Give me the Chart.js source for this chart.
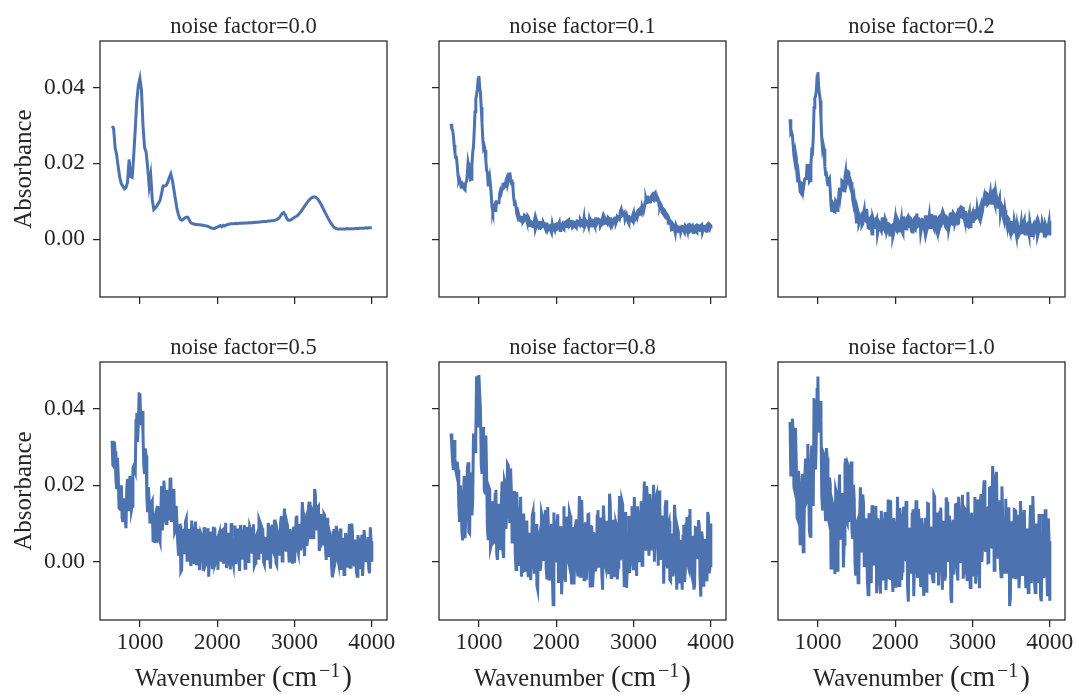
<!DOCTYPE html>
<html>
<head>
<meta charset="utf-8">
<script src="https://cdn.jsdelivr.net/npm/chart.js@4.4.0/dist/chart.umd.min.js"></script>
<style>
  html, body { margin: 0; padding: 0; background: #fff; }
  #fig { position: relative; width: 1076px; height: 695px; overflow: hidden; background: #fff; }
  #fig canvas { position: absolute; }
</style>
</head>
<body>
<div id="fig"></div>
<script>
// wavenumber grids (cm-1): the clean spectrum is read on a 20 cm-1 step,
// the noisy ones on a 10 cm-1 step
const wavenumbersCoarse = [
  640,660,680,700,720,740,760,780,800,820,
  840,860,880,900,920,940,960,980,1000,1020,
  1040,1060,1080,1100,1120,1140,1160,1180,1200,1220,
  1240,1260,1280,1300,1320,1340,1360,1380,1400,1420,
  1440,1460,1480,1500,1520,1540,1560,1580,1600,1620,
  1640,1660,1680,1700,1720,1740,1760,1780,1800,1820,
  1840,1860,1880,1900,1920,1940,1960,1980,2000,2020,
  2040,2060,2080,2100,2120,2140,2160,2180,2200,2220,
  2240,2260,2280,2300,2320,2340,2360,2380,2400,2420,
  2440,2460,2480,2500,2520,2540,2560,2580,2600,2620,
  2640,2660,2680,2700,2720,2740,2760,2780,2800,2820,
  2840,2860,2880,2900,2920,2940,2960,2980,3000,3020,
  3040,3060,3080,3100,3120,3140,3160,3180,3200,3220,
  3240,3260,3280,3300,3320,3340,3360,3380,3400,3420,
  3440,3460,3480,3500,3520,3540,3560,3580,3600,3620,
  3640,3660,3680,3700,3720,3740,3760,3780,3800,3820,
  3840,3860,3880,3900,3920,3940,3960,3980,4000
];

const wavenumbersFine = [
  640,650,660,670,680,690,700,710,720,730,740,750,760,770,780,790,800,810,820,830,
  840,850,860,870,880,890,900,910,920,930,940,950,960,970,980,990,1000,1010,1020,1030,
  1040,1050,1060,1070,1080,1090,1100,1110,1120,1130,1140,1150,1160,1170,1180,1190,1200,1210,1220,1230,
  1240,1250,1260,1270,1280,1290,1300,1310,1320,1330,1340,1350,1360,1370,1380,1390,1400,1410,1420,1430,
  1440,1450,1460,1470,1480,1490,1500,1510,1520,1530,1540,1550,1560,1570,1580,1590,1600,1610,1620,1630,
  1640,1650,1660,1670,1680,1690,1700,1710,1720,1730,1740,1750,1760,1770,1780,1790,1800,1810,1820,1830,
  1840,1850,1860,1870,1880,1890,1900,1910,1920,1930,1940,1950,1960,1970,1980,1990,2000,2010,2020,2030,
  2040,2050,2060,2070,2080,2090,2100,2110,2120,2130,2140,2150,2160,2170,2180,2190,2200,2210,2220,2230,
  2240,2250,2260,2270,2280,2290,2300,2310,2320,2330,2340,2350,2360,2370,2380,2390,2400,2410,2420,2430,
  2440,2450,2460,2470,2480,2490,2500,2510,2520,2530,2540,2550,2560,2570,2580,2590,2600,2610,2620,2630,
  2640,2650,2660,2670,2680,2690,2700,2710,2720,2730,2740,2750,2760,2770,2780,2790,2800,2810,2820,2830,
  2840,2850,2860,2870,2880,2890,2900,2910,2920,2930,2940,2950,2960,2970,2980,2990,3000,3010,3020,3030,
  3040,3050,3060,3070,3080,3090,3100,3110,3120,3130,3140,3150,3160,3170,3180,3190,3200,3210,3220,3230,
  3240,3250,3260,3270,3280,3290,3300,3310,3320,3330,3340,3350,3360,3370,3380,3390,3400,3410,3420,3430,
  3440,3450,3460,3470,3480,3490,3500,3510,3520,3530,3540,3550,3560,3570,3580,3590,3600,3610,3620,3630,
  3640,3650,3660,3670,3680,3690,3700,3710,3720,3730,3740,3750,3760,3770,3780,3790,3800,3810,3820,3830,
  3840,3850,3860,3870,3880,3890,3900,3910,3920,3930,3940,3950,3960,3970,3980,3990,4000
];

// absorbance
const absorbanceNf00 = [
  298e-4,292e-4,240e-4,222e-4,190e-4,162e-4,146e-4,140e-4,133e-4,136e-4,
  150e-4,210e-4,165e-4,163e-4,220e-4,290e-4,365e-4,405e-4,424e-4,393e-4,
  300e-4,242e-4,230e-4,190e-4,140e-4,168e-4,105e-4,78e-4,82e-4,88e-4,
  95e-4,102e-4,120e-4,140e-4,140e-4,142e-4,150e-4,162e-4,172e-4,155e-4,
  130e-4,105e-4,80e-4,64e-4,53e-4,50e-4,52e-4,56e-4,58e-4,58e-4,
  50e-4,43e-4,41e-4,40e-4,39e-4,39e-4,38e-4,38e-4,37e-4,37e-4,
  36e-4,35e-4,34e-4,32e-4,30e-4,29e-4,28e-4,30e-4,32e-4,34e-4,
  36e-4,33e-4,37e-4,35e-4,38e-4,39e-4,40e-4,41e-4,41e-4,41e-4,
  42e-4,41e-4,42e-4,42e-4,43e-4,42e-4,43e-4,43e-4,43e-4,44e-4,
  43e-4,44e-4,44e-4,45e-4,45e-4,45e-4,46e-4,46e-4,47e-4,47e-4,
  47e-4,48e-4,48e-4,49e-4,49e-4,50e-4,51e-4,53e-4,56e-4,62e-4,
  68e-4,70e-4,64e-4,55e-4,50e-4,50e-4,52e-4,55e-4,58e-4,60e-4,
  63e-4,67e-4,72e-4,78e-4,84e-4,90e-4,96e-4,101e-4,106e-4,109e-4,
  111e-4,111e-4,110e-4,106e-4,100e-4,93e-4,85e-4,77e-4,69e-4,61e-4,
  53e-4,46e-4,40e-4,34e-4,30e-4,28e-4,27e-4,27e-4,27e-4,27e-4,
  27e-4,27e-4,28e-4,27e-4,28e-4,28e-4,28e-4,28e-4,29e-4,28e-4,
  29e-4,29e-4,29e-4,29e-4,30e-4,29e-4,30e-4,30e-4,30e-4
];

const absorbanceNf01 = [
  304e-4,290e-4,288e-4,273e-4,248e-4,228e-4,215e-4,215e-4,193e-4,168e-4,153e-4,158e-4,151e-4,137e-4,138e-4,146e-4,143e-4,132e-4,130e-4,149e-4,
  152e-4,171e-4,202e-4,191e-4,172e-4,157e-4,158e-4,196e-4,229e-4,244e-4,287e-4,336e-4,369e-4,381e-4,395e-4,421e-4,430e-4,400e-4,386e-4,348e-4,
  308e-4,265e-4,240e-4,245e-4,235e-4,207e-4,181e-4,177e-4,143e-4,149e-4,162e-4,143e-4,116e-4,84e-4,74e-4,84e-4,89e-4,76e-4,80e-4,98e-4,
  97e-4,96e-4,97e-4,121e-4,129e-4,123e-4,133e-4,145e-4,146e-4,137e-4,139e-4,154e-4,160e-4,144e-4,153e-4,170e-4,176e-4,158e-4,149e-4,151e-4,
  137e-4,110e-4,94e-4,96e-4,85e-4,67e-4,60e-4,69e-4,61e-4,49e-4,48e-4,58e-4,58e-4,45e-4,48e-4,63e-4,61e-4,56e-4,48e-4,62e-4,
  59e-4,36e-4,38e-4,47e-4,45e-4,34e-4,33e-4,43e-4,52e-4,26e-4,33e-4,47e-4,40e-4,34e-4,29e-4,44e-4,44e-4,32e-4,34e-4,46e-4,
  41e-4,32e-4,27e-4,40e-4,44e-4,24e-4,28e-4,35e-4,36e-4,22e-4,17e-4,40e-4,31e-4,27e-4,23e-4,39e-4,40e-4,27e-4,29e-4,40e-4,
  45e-4,23e-4,31e-4,38e-4,41e-4,28e-4,26e-4,43e-4,45e-4,34e-4,33e-4,49e-4,51e-4,35e-4,38e-4,47e-4,46e-4,31e-4,33e-4,45e-4,
  44e-4,34e-4,31e-4,49e-4,50e-4,39e-4,37e-4,53e-4,49e-4,36e-4,35e-4,44e-4,57e-4,34e-4,39e-4,48e-4,46e-4,39e-4,35e-4,56e-4,
  50e-4,35e-4,38e-4,50e-4,49e-4,39e-4,34e-4,54e-4,54e-4,43e-4,43e-4,52e-4,50e-4,34e-4,38e-4,50e-4,57e-4,41e-4,42e-4,55e-4,
  50e-4,44e-4,41e-4,58e-4,56e-4,41e-4,36e-4,54e-4,55e-4,40e-4,46e-4,53e-4,60e-4,41e-4,47e-4,60e-4,58e-4,55e-4,54e-4,74e-4,
  79e-4,63e-4,65e-4,69e-4,71e-4,52e-4,52e-4,64e-4,55e-4,45e-4,41e-4,58e-4,56e-4,50e-4,48e-4,64e-4,70e-4,49e-4,54e-4,65e-4,
  69e-4,58e-4,65e-4,78e-4,80e-4,71e-4,68e-4,87e-4,87e-4,74e-4,84e-4,98e-4,105e-4,96e-4,97e-4,111e-4,113e-4,98e-4,98e-4,113e-4,
  116e-4,105e-4,103e-4,121e-4,123e-4,103e-4,103e-4,110e-4,106e-4,88e-4,86e-4,93e-4,89e-4,71e-4,68e-4,79e-4,77e-4,62e-4,56e-4,66e-4,
  63e-4,42e-4,42e-4,48e-4,43e-4,25e-4,26e-4,40e-4,37e-4,25e-4,16e-4,37e-4,32e-4,21e-4,21e-4,30e-4,36e-4,18e-4,25e-4,34e-4,
  33e-4,22e-4,18e-4,35e-4,32e-4,25e-4,20e-4,38e-4,39e-4,21e-4,23e-4,34e-4,36e-4,18e-4,25e-4,32e-4,34e-4,20e-4,18e-4,37e-4,
  36e-4,25e-4,23e-4,36e-4,38e-4,18e-4,25e-4,34e-4,33e-4,23e-4,21e-4,38e-4,40e-4,27e-4,25e-4,38e-4,36e-4
];

const absorbanceNf02 = [
  316e-4,279e-4,282e-4,274e-4,248e-4,221e-4,208e-4,228e-4,216e-4,170e-4,150e-4,168e-4,150e-4,125e-4,122e-4,148e-4,147e-4,130e-4,130e-4,159e-4,
  160e-4,160e-4,194e-4,198e-4,185e-4,152e-4,155e-4,197e-4,232e-4,229e-4,266e-4,346e-4,371e-4,377e-4,391e-4,429e-4,440e-4,400e-4,383e-4,366e-4,
  318e-4,265e-4,238e-4,248e-4,238e-4,192e-4,172e-4,173e-4,154e-4,140e-4,156e-4,160e-4,127e-4,88e-4,72e-4,96e-4,92e-4,73e-4,72e-4,102e-4,
  99e-4,76e-4,82e-4,117e-4,136e-4,114e-4,130e-4,154e-4,152e-4,133e-4,128e-4,164e-4,178e-4,146e-4,154e-4,179e-4,178e-4,144e-4,137e-4,150e-4,
  144e-4,104e-4,93e-4,108e-4,90e-4,66e-4,42e-4,80e-4,71e-4,40e-4,46e-4,55e-4,60e-4,36e-4,40e-4,67e-4,78e-4,50e-4,48e-4,80e-4,
  56e-4,30e-4,29e-4,54e-4,57e-4,30e-4,14e-4,58e-4,51e-4,35e-4,31e-4,52e-4,56e-4,14e-4,26e-4,45e-4,41e-4,25e-4,21e-4,52e-4,
  58e-4,29e-4,25e-4,54e-4,48e-4,19e-4,26e-4,41e-4,40e-4,11e-4,11e-4,34e-4,36e-4,7e-4,16e-4,43e-4,56e-4,25e-4,22e-4,53e-4,
  48e-4,22e-4,29e-4,39e-4,53e-4,20e-4,15e-4,60e-4,44e-4,28e-4,27e-4,54e-4,58e-4,34e-4,33e-4,57e-4,55e-4,21e-4,19e-4,49e-4,
  52e-4,27e-4,25e-4,59e-4,68e-4,34e-4,36e-4,54e-4,55e-4,16e-4,28e-4,52e-4,51e-4,39e-4,25e-4,59e-4,59e-4,25e-4,34e-4,49e-4,
  63e-4,31e-4,36e-4,66e-4,50e-4,34e-4,29e-4,59e-4,59e-4,29e-4,21e-4,53e-4,56e-4,26e-4,34e-4,58e-4,65e-4,41e-4,43e-4,65e-4,
  59e-4,33e-4,30e-4,58e-4,56e-4,24e-4,35e-4,65e-4,71e-4,41e-4,40e-4,70e-4,67e-4,40e-4,47e-4,60e-4,66e-4,41e-4,42e-4,79e-4,
  82e-4,59e-4,58e-4,83e-4,82e-4,56e-4,47e-4,74e-4,56e-4,36e-4,34e-4,63e-4,72e-4,33e-4,45e-4,64e-4,70e-4,43e-4,72e-4,79e-4,
  55e-4,57e-4,83e-4,83e-4,58e-4,53e-4,84e-4,91e-4,66e-4,75e-4,100e-4,111e-4,92e-4,92e-4,121e-4,119e-4,94e-4,97e-4,113e-4,124e-4,
  95e-4,105e-4,125e-4,128e-4,100e-4,92e-4,124e-4,111e-4,94e-4,84e-4,101e-4,109e-4,65e-4,77e-4,89e-4,85e-4,55e-4,47e-4,77e-4,63e-4,
  49e-4,35e-4,56e-4,53e-4,22e-4,15e-4,40e-4,48e-4,18e-4,21e-4,50e-4,39e-4,19e-4,7e-4,41e-4,31e-4,11e-4,15e-4,31e-4,45e-4,
  17e-4,21e-4,45e-4,51e-4,14e-4,17e-4,39e-4,41e-4,22e-4,12e-4,48e-4,36e-4,10e-4,10e-4,36e-4,40e-4,17e-4,24e-4,42e-4,48e-4,
  7e-4,15e-4,39e-4,39e-4,21e-4,21e-4,45e-4,45e-4,26e-4,5e-4,41e-4,35e-4,14e-4,18e-4,36e-4,48e-4,10e-4
];

const absorbanceNf05 = [
  316e-4,253e-4,250e-4,314e-4,288e-4,213e-4,190e-4,272e-4,226e-4,140e-4,138e-4,166e-4,200e-4,115e-4,104e-4,166e-4,145e-4,110e-4,88e-4,190e-4,
  216e-4,132e-4,180e-4,224e-4,207e-4,134e-4,145e-4,245e-4,250e-4,243e-4,236e-4,370e-4,389e-4,313e-4,363e-4,439e-4,440e-4,374e-4,357e-4,394e-4,
  336e-4,253e-4,230e-4,296e-4,278e-4,168e-4,130e-4,195e-4,158e-4,100e-4,132e-4,154e-4,159e-4,55e-4,54e-4,116e-4,124e-4,61e-4,50e-4,146e-4,
  125e-4,62e-4,54e-4,123e-4,198e-4,82e-4,122e-4,212e-4,176e-4,111e-4,100e-4,188e-4,174e-4,138e-4,108e-4,215e-4,220e-4,104e-4,125e-4,166e-4,
  190e-4,76e-4,81e-4,146e-4,98e-4,48e-4,16e-4,94e-4,95e-4,-26e-4,-22e-4,81e-4,82e-4,42e-4,20e-4,105e-4,112e-4,4e-4,46e-4,72e-4,
  86e-4,10e-4,-11e-4,108e-4,65e-4,10e-4,-2e-4,82e-4,105e-4,-9e-4,9e-4,62e-4,86e-4,-22e-4,20e-4,73e-4,67e-4,19e-4,-23e-4,90e-4,
  78e-4,-7e-4,-1e-4,64e-4,88e-4,-39e-4,8e-4,79e-4,48e-4,5e-4,-19e-4,88e-4,88e-4,-7e-4,0,49e-4,68e-4,-21e-4,70e-4,77e-4,
  12e-4,4e-4,81e-4,83e-4,-5e-4,24e-4,53e-4,102e-4,-16e-4,-4e-4,69e-4,76e-4,28e-4,-20e-4,101e-4,65e-4,5e-4,-7e-4,53e-4,95e-4,
  -6e-4,17e-4,83e-4,83e-4,12e-4,-24e-4,96e-4,72e-4,25e-4,6e-4,66e-4,96e-4,-17e-4,25e-4,79e-4,91e-4,1e-4,13e-4,92e-4,85e-4,
  31e-4,25e-4,74e-4,98e-4,-10e-4,-4e-4,63e-4,69e-4,9e-4,9e-4,111e-4,105e-4,22e-4,34e-4,88e-4,82e-4,-1e-4,-7e-4,59e-4,65e-4,
  17e-4,5e-4,102e-4,78e-4,6e-4,-18e-4,85e-4,97e-4,31e-4,25e-4,110e-4,86e-4,-3e-4,-8e-4,77e-4,66e-4,20e-4,23e-4,104e-4,119e-4,
  2e-4,51e-4,100e-4,139e-4,40e-4,30e-4,103e-4,94e-4,38e-4,2e-4,86e-4,75e-4,4e-4,-1e-4,73e-4,92e-4,-2e-4,47e-4,114e-4,121e-4,
  33e-4,23e-4,91e-4,99e-4,30e-4,51e-4,156e-4,129e-4,48e-4,15e-4,102e-4,111e-4,42e-4,62e-4,143e-4,157e-4,88e-4,59e-4,139e-4,134e-4,
  63e-4,81e-4,190e-4,176e-4,86e-4,90e-4,142e-4,145e-4,28e-4,42e-4,111e-4,125e-4,43e-4,69e-4,125e-4,121e-4,39e-4,5e-4,115e-4,87e-4,
  41e-4,13e-4,70e-4,61e-4,-14e-4,-41e-4,76e-4,86e-4,-6e-4,5e-4,94e-4,69e-4,9e-4,-3e-4,57e-4,87e-4,-21e-4,9e-4,39e-4,63e-4,
  -33e-4,-27e-4,75e-4,51e-4,-2e-4,-15e-4,63e-4,99e-4,-14e-4,16e-4,100e-4,76e-4,4e-4,-8e-4,46e-4,58e-4,-25e-4,-38e-4,70e-4,46e-4,
  -7e-4,-19e-4,59e-4,71e-4,-37e-4,5e-4,83e-4,83e-4,18e-4,-1e-4,53e-4,65e-4,-18e-4,-30e-4,90e-4,54e-4,0
];

const absorbanceNf08 = [
  335e-4,300e-4,262e-4,240e-4,318e-4,271e-4,240e-4,230e-4,262e-4,240e-4,150e-4,104e-4,200e-4,163e-4,80e-4,56e-4,170e-4,224e-4,62e-4,113e-4,
  130e-4,240e-4,260e-4,78e-4,75e-4,214e-4,233e-4,121e-4,160e-4,335e-4,320e-4,288e-4,330e-4,485e-4,445e-4,355e-4,488e-4,440e-4,400e-4,256e-4,
  230e-4,341e-4,352e-4,186e-4,180e-4,330e-4,230e-4,85e-4,60e-4,194e-4,188e-4,36e-4,45e-4,152e-4,158e-4,50e-4,52e-4,175e-4,188e-4,22e-4,
  5e-4,148e-4,152e-4,31e-4,80e-4,150e-4,210e-4,30e-4,10e-4,211e-4,202e-4,86e-4,130e-4,256e-4,252e-4,127e-4,102e-4,244e-4,185e-4,52e-4,
  80e-4,158e-4,185e-4,22e-4,-20e-4,182e-4,104e-4,8e-4,-7e-4,112e-4,170e-4,-39e-4,22e-4,84e-4,126e-4,-23e-4,-22e-4,90e-4,108e-4,-16e-4,
  -40e-4,76e-4,63e-4,-48e-4,1e-4,120e-4,130e-4,0,-31e-4,85e-4,99e-4,-62e-4,-72e-4,58e-4,68e-4,-23e-4,-13e-4,127e-4,117e-4,6e-4,
  16e-4,105e-4,135e-4,-16e-4,-46e-4,143e-4,82e-4,-49e-4,-30e-4,69e-4,99e-4,-32e-4,-112e-4,129e-4,70e-4,11e-4,2e-4,93e-4,124e-4,-55e-4,
  -34e-4,64e-4,93e-4,-85e-4,-13e-4,86e-4,145e-4,-34e-4,-52e-4,118e-4,59e-4,10e-4,0,130e-4,121e-4,-19e-4,-59e-4,61e-4,91e-4,-59e-4,
  12e-4,95e-4,111e-4,-9e-4,-38e-4,82e-4,172e-4,-38e-4,-17e-4,162e-4,82e-4,12e-4,-47e-4,88e-4,103e-4,-47e-4,23e-4,123e-4,124e-4,3e-4,
  -67e-4,93e-4,94e-4,-66e-4,-26e-4,74e-4,75e-4,-25e-4,-5e-4,120e-4,135e-4,-15e-4,6e-4,66e-4,116e-4,-34e-4,-73e-4,147e-4,107e-4,-3e-4,
  -13e-4,107e-4,68e-4,18e-4,-32e-4,178e-4,149e-4,-41e-4,19e-4,89e-4,110e-4,-20e-4,-39e-4,102e-4,93e-4,-46e-4,-14e-4,89e-4,172e-4,5e-4,
  18e-4,159e-4,150e-4,27e-4,-66e-4,130e-4,85e-4,-68e-4,-10e-4,70e-4,120e-4,-29e-4,12e-4,113e-4,145e-4,6e-4,-22e-4,169e-4,110e-4,31e-4,
  -37e-4,145e-4,107e-4,-1e-4,42e-4,115e-4,158e-4,-9e-4,14e-4,137e-4,210e-4,33e-4,46e-4,198e-4,161e-4,63e-4,16e-4,177e-4,129e-4,30e-4,
  51e-4,141e-4,201e-4,0,70e-4,168e-4,176e-4,83e-4,-10e-4,186e-4,143e-4,39e-4,5e-4,121e-4,107e-4,-57e-4,19e-4,145e-4,161e-4,-3e-4,
  -17e-4,99e-4,106e-4,-47e-4,-50e-4,57e-4,74e-4,-38e-4,0,149e-4,108e-4,-13e-4,-73e-4,87e-4,77e-4,-53e-4,-33e-4,57e-4,-33e-4,-73e-4,
  67e-4,97e-4,-53e-4,-23e-4,98e-4,117e-4,-3e-4,-12e-4,118e-4,138e-4,-22e-4,-32e-4,48e-4,68e-4,-72e-4,-62e-4,89e-4,88e-4,8e-4,20e-4,
  109e-4,95e-4,-41e-4,-91e-4,79e-4,66e-4,-61e-4,-41e-4,60e-4,45e-4,-11e-4,-51e-4,130e-4,115e-4,-30e-4,-10e-4,100e-4
];

const absorbanceNf10 = [
  365e-4,223e-4,250e-4,374e-4,340e-4,195e-4,186e-4,350e-4,262e-4,116e-4,110e-4,238e-4,194e-4,47e-4,50e-4,184e-4,229e-4,26e-4,76e-4,215e-4,
  270e-4,156e-4,162e-4,308e-4,201e-4,80e-4,67e-4,251e-4,304e-4,207e-4,146e-4,424e-4,425e-4,241e-4,333e-4,451e-4,484e-4,338e-4,369e-4,420e-4,
  372e-4,175e-4,134e-4,284e-4,278e-4,150e-4,106e-4,297e-4,272e-4,118e-4,108e-4,220e-4,201e-4,-16e-4,42e-4,152e-4,142e-4,61e-4,-32e-4,188e-4,
  179e-4,-22e-4,30e-4,171e-4,228e-4,58e-4,92e-4,176e-4,176e-4,-15e-4,46e-4,254e-4,270e-4,108e-4,102e-4,251e-4,244e-4,104e-4,227e-4,262e-4,
  82e-4,60e-4,201e-4,164e-4,-4e-4,-36e-4,100e-4,106e-4,-55e-4,-32e-4,110e-4,195e-4,28e-4,30e-4,176e-4,153e-4,-14e-4,10e-4,82e-4,114e-4,
  -46e-4,-86e-4,127e-4,78e-4,-19e-4,-56e-4,148e-4,124e-4,3e-4,-9e-4,87e-4,146e-4,-82e-4,-22e-4,110e-4,109e-4,-47e-4,-83e-4,133e-4,84e-4,
  12e-4,-49e-4,95e-4,130e-4,-74e-4,-3e-4,68e-4,163e-4,-42e-4,-43e-4,161e-4,52e-4,-20e-4,-79e-4,114e-4,91e-4,-64e-4,-15e-4,58e-4,170e-4,
  -24e-4,-62e-4,141e-4,107e-4,-47e-4,-24e-4,107e-4,144e-4,2e-4,14e-4,159e-4,124e-4,-68e-4,-104e-4,89e-4,70e-4,-31e-4,-5e-4,125e-4,137e-4,
  -90e-4,5e-4,101e-4,161e-4,-6e-4,-42e-4,138e-4,102e-4,19e-4,-66e-4,114e-4,78e-4,-53e-4,-89e-4,79e-4,115e-4,-77e-4,-5e-4,152e-4,151e-4,
  -17e-4,-29e-4,92e-4,68e-4,-40e-4,-52e-4,175e-4,170e-4,-27e-4,-15e-4,69e-4,129e-4,-62e-4,10e-4,130e-4,142e-4,11e-4,-73e-4,107e-4,95e-4,
  -49e-4,-37e-4,168e-4,156e-4,0,30e-4,121e-4,95e-4,-95e-4,-107e-4,86e-4,110e-4,-33e-4,28e-4,149e-4,150e-4,-4e-4,-49e-4,170e-4,101e-4,
  44e-4,-3e-4,118e-4,175e-4,-44e-4,0,139e-4,136e-4,-22e-4,-46e-4,182e-4,99e-4,16e-4,-67e-4,115e-4,128e-4,-38e-4,23e-4,84e-4,169e-4,
  -57e-4,-19e-4,163e-4,129e-4,12e-4,-69e-4,150e-4,177e-4,0,39e-4,174e-4,213e-4,48e-4,26e-4,137e-4,139e-4,-2e-4,-1e-4,193e-4,194e-4,
  39e-4,51e-4,250e-4,206e-4,-22e-4,84e-4,214e-4,235e-4,76e-4,12e-4,141e-4,161e-4,-11e-4,-39e-4,197e-4,121e-4,9e-4,-31e-4,97e-4,165e-4,
  -31e-4,1e-4,142e-4,127e-4,-116e-4,-95e-4,106e-4,92e-4,-18e-4,-43e-4,136e-4,135e-4,-45e-4,-9e-4,51e-4,123e-4,-69e-4,-33e-4,159e-4,111e-4,
  -33e-4,-9e-4,111e-4,135e-4,-8e-4,-69e-4,87e-4,75e-4,-80e-4,-44e-4,76e-4,148e-4,-56e-4,4e-4,172e-4,100e-4,-43e-4,-80e-4,100e-4,64e-4,
  5e-4,-55e-4,125e-4,89e-4,-91e-4,-103e-4,65e-4,125e-4,-42e-4,-19e-4,137e-4,101e-4,-18e-4,-90e-4,114e-4,54e-4,-102e-4
];

const panelTitles = ['noise factor=0.0', 'noise factor=0.1', 'noise factor=0.2',
                     'noise factor=0.5', 'noise factor=0.8', 'noise factor=1.0'];
const panelSeries = [absorbanceNf00, absorbanceNf01, absorbanceNf02,
                     absorbanceNf05, absorbanceNf08, absorbanceNf10];
const panelGrids = [wavenumbersCoarse, wavenumbersFine, wavenumbersFine,
                    wavenumbersFine, wavenumbersFine, wavenumbersFine];
const xTickValues = [1000, 2000, 3000, 4000];
const yTickValues = [0, 0.02, 0.04];
const xRange = [484, 4196];
const yRange = [-0.0152, 0.0522];
const yAxisLabel = 'Absorbance';
const xAxisLabel = ['Wavenumber', '(cm', '\u22121', ')'];

// layout of the 2x3 grid (pixels)
const colLefts = [100, 439, 778];
const rowTops = [41, 362];
const rowHeights = [256, 258];
const plotW = 287;
const roomLeft = 100, roomRight = 30, roomTop = 41, roomBottom = 75;

const serif = "'Liberation Serif', 'Times New Roman', serif";
const ink = '#262626';
const lineBlue = '#4c72b0';

// box around each plot area
const framePlugin = {
    id: 'frame',
    afterDatasetsDraw(chart) {
        const { ctx, chartArea: a } = chart;
        ctx.save();
        ctx.strokeStyle = ink;
        ctx.lineWidth = 1.25;
        ctx.strokeRect(a.left, a.top, a.right - a.left, a.bottom - a.top);
        ctx.restore();
    }
};

// x axis label, the unit part set a little larger like mathtext, with a raised exponent
const xLabelPlugin = {
    id: 'xLabel',
    afterDraw(chart, args, opts) {
        if (!opts.show) return;
        const { ctx, chartArea: a } = chart;
        const textFont = '24.5px ' + serif;
        const mathFont = '29px ' + serif;
        const supFont = '20px ' + serif;
        const gap = 7;
        ctx.save();
        ctx.fillStyle = ink;
        ctx.textBaseline = 'alphabetic';
        ctx.textAlign = 'left';
        ctx.font = textFont;
        const w0 = ctx.measureText(xAxisLabel[0]).width;
        ctx.font = mathFont;
        const w1 = ctx.measureText(xAxisLabel[1]).width;
        const w3 = ctx.measureText(xAxisLabel[3]).width;
        ctx.font = supFont;
        const w2 = ctx.measureText(xAxisLabel[2]).width;
        const total = w0 + gap + w1 + 2 + w2 + 2 + w3;
        let x = (a.left + a.right) / 2 - total / 2;
        const y = a.bottom + 66;
        ctx.font = textFont;
        ctx.fillText(xAxisLabel[0], x, y);
        x += w0 + gap;
        ctx.font = mathFont;
        ctx.fillText(xAxisLabel[1], x, y);
        x += w1 + 2;
        ctx.font = supFont;
        ctx.fillText(xAxisLabel[2], x, y - 9);
        x += w2 + 2;
        ctx.font = mathFont;
        ctx.fillText(xAxisLabel[3], x, y);
        ctx.restore();
    }
};

const fig = document.getElementById('fig');

panelSeries.forEach((series, k) => {
    const row = Math.floor(k / 3);
    const col = k % 3;
    const plotH = rowHeights[row];
    const cw = roomLeft + plotW + roomRight;
    const ch = roomTop + plotH + roomBottom;

    const canvas = document.createElement('canvas');
    canvas.width = cw;
    canvas.height = ch;
    canvas.style.width = cw + 'px';
    canvas.style.height = ch + 'px';
    canvas.style.left = (colLefts[col] - roomLeft) + 'px';
    canvas.style.top = (rowTops[row] - roomTop) + 'px';
    fig.appendChild(canvas);

    const tickFont = { family: serif, size: 23.5 };
    const gridOpts = { drawOnChartArea: false, drawTicks: true, tickLength: 7, color: ink, lineWidth: 1.25 };

    new Chart(canvas.getContext('2d'), {
        type: 'line',
        data: {
            labels: panelGrids[k],
            datasets: [{
                data: series,
                borderColor: lineBlue,
                borderWidth: 3,
                pointRadius: 0,
                fill: false,
                tension: 0
            }]
        },
        options: {
            responsive: false,
            animation: false,
            devicePixelRatio: 1,
            events: [],
            layout: { padding: { left: 0, right: roomRight, top: 0, bottom: 0 } },
            plugins: {
                legend: { display: false },
                tooltip: { enabled: false },
                title: {
                    display: true,
                    text: panelTitles[k],
                    fullSize: false,
                    color: ink,
                    font: { family: serif, size: 22.5, weight: 'normal' },
                    padding: { top: 14, bottom: 0 }
                },
                xLabel: { show: row === 1 }
            },
            scales: {
                x: {
                    type: 'linear',
                    min: xRange[0],
                    max: xRange[1],
                    bounds: 'data',
                    afterBuildTicks: s => { s.ticks = xTickValues.map(v => ({ value: v })); },
                    afterFit: s => { s.height = roomBottom; },
                    grid: gridOpts,
                    border: { display: false },
                    ticks: {
                        display: row === 1,
                        font: tickFont,
                        color: ink,
                        padding: 2,
                        maxRotation: 0,
                        autoSkip: false,
                        callback: v => String(v)
                    }
                },
                y: {
                    type: 'linear',
                    min: yRange[0],
                    max: yRange[1],
                    bounds: 'data',
                    afterBuildTicks: s => { s.ticks = yTickValues.map(v => ({ value: v })); },
                    afterFit: s => { s.width = roomLeft; },
                    grid: gridOpts,
                    border: { display: false },
                    title: {
                        display: col === 0,
                        text: yAxisLabel,
                        color: ink,
                        font: { family: serif, size: 25 },
                        padding: { top: 9, bottom: 0 }
                    },
                    ticks: {
                        display: col === 0,
                        font: tickFont,
                        color: ink,
                        padding: 8,
                        autoSkip: false,
                        callback: v => v.toFixed(2)
                    }
                }
            }
        },
        plugins: [framePlugin, xLabelPlugin]
    });
});
</script>
</body>
</html>
